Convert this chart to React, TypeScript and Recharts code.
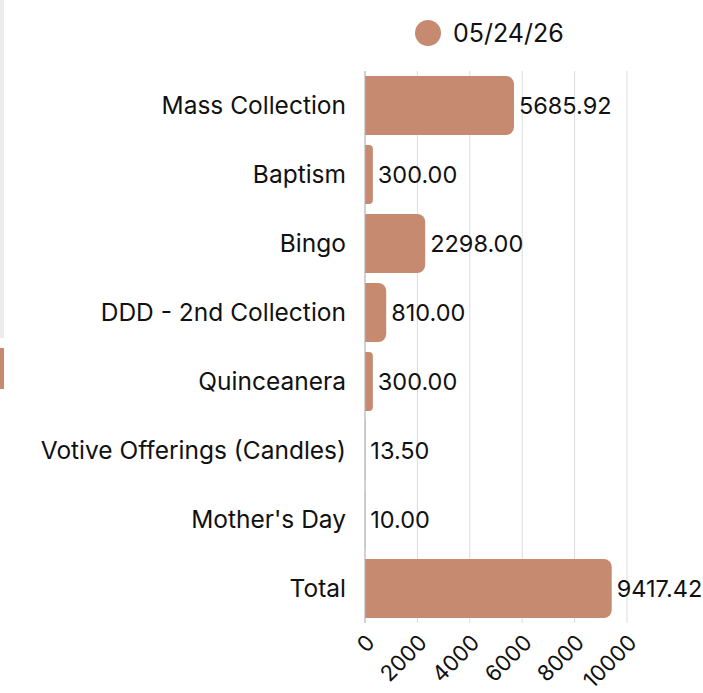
import { BarChart, Bar, XAxis, YAxis, CartesianGrid, Legend, LabelList } from "recharts";

const categories = [
  "Mass Collection",
  "Baptism",
  "Bingo",
  "DDD - 2nd Collection",
  "Quinceanera",
  "Votive Offerings (Candles)",
  "Mother's Day",
  "Total",
];
const amounts = [5685.92, 300.0, 2298.0, 810.0, 300.0, 13.5, 10.0, 9417.42];
const xTicks = [0, 2000, 4000, 6000, 8000, 10000];
const seriesName = "05/24/26";

const chartData = categories.map((name, i) => ({ name, value: amounts[i] }));

const FONT = "Inter, 'Noto Sans', sans-serif";
const BAR_COLOR = "#c58a70";

const LegendContent = () => (
  <div style={{ height: 71, position: "relative", fontFamily: FONT }}>
    <div style={{ position: "absolute", left: 415, top: 18, display: "flex", alignItems: "center", gap: 12 }}>
      <div style={{ width: 26, height: 26, borderRadius: "50%", background: BAR_COLOR }} />
      <span style={{ fontSize: 25, color: "#111" }}>{seriesName}</span>
    </div>
  </div>
);

export default function App() {
  return (
    <div style={{ position: "absolute", left: 0, top: 0, width: 703, height: 693, background: "#fff", fontFamily: FONT }}>
      <div style={{ position: "absolute", left: 0, top: 0, width: 4, height: 338, background: "#ececec" }} />
      <div style={{ position: "absolute", left: 0, top: 348, width: 4, height: 41, background: BAR_COLOR }} />
      <BarChart
        width={703}
        height={693}
        data={chartData}
        layout="vertical"
        margin={{ top: 0, right: 76, left: 0, bottom: 0 }}
        barSize={59}
      >
        <Legend verticalAlign="top" content={<LegendContent />} wrapperStyle={{ left: 0, top: 0, width: 703 }} />
        <CartesianGrid horizontal={false} stroke="#dcdcdc" />
        <XAxis
          type="number"
          domain={[0, 10000]}
          ticks={xTicks}
          axisLine={false}
          tickLine={false}
          height={70}
          tickMargin={4}
          angle={-45}
          textAnchor="end"
          tick={{ fill: "#111", fontSize: 22, fontFamily: FONT }}
        />
        <YAxis
          type="category"
          dataKey="name"
          width={365}
          axisLine={{ stroke: "#b5b5b5" }}
          tickLine={false}
          tickMargin={13}
          tick={{ fill: "#111", fontSize: 24.5, fontFamily: FONT }}
        />
        <Bar dataKey="value" name={seriesName} fill={BAR_COLOR} radius={[0, 8, 8, 0]} isAnimationActive={false}>
          <LabelList
            dataKey="value"
            position="right"
            offset={5}
            formatter={(v: number) => v.toFixed(2)}
            style={{ fill: "#111", fontSize: 23.5, fontFamily: FONT }}
          />
        </Bar>
      </BarChart>
    </div>
  );
}
